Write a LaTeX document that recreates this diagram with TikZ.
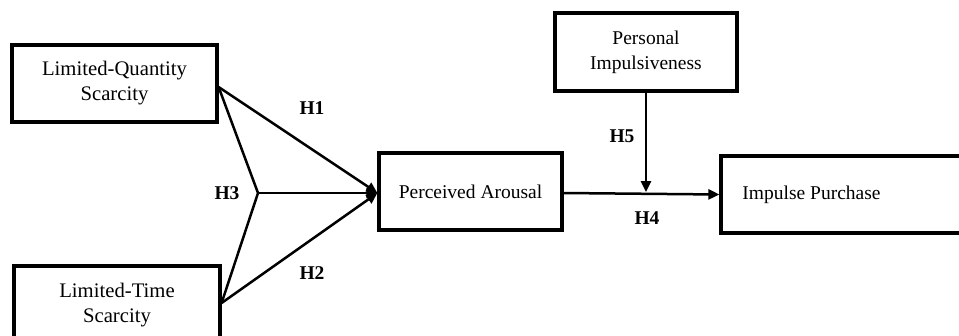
\documentclass[tikz,border=0pt]{standalone}
\usepackage{fontspec}
\setmainfont{Liberation Serif}
\usetikzlibrary{arrows.meta}
\begin{document}
\begin{tikzpicture}[x=1pt,y=-1pt,
  box/.style={draw, line width=3.2pt, inner sep=0pt, font=\fontsize{19.5}{25}\selectfont},
  bigtext/.style={font=\fontsize{20.7}{25}\selectfont},
  conn/.style={line width=2.5pt},
  arr/.style={conn, -{Triangle[length=11pt,width=10pt]}},
  hlab/.style={font=\fontsize{19.5}{20}\selectfont\bfseries, inner sep=0pt}]
\fill[white] (0,0) rectangle (959,335);
\useasboundingbox (0,0) rectangle (959,335);
\clip (0,0) rectangle (959,335);
% boxes
\node[box, bigtext, align=center, minimum width=205pt, minimum height=77pt] (LQ) at (114.5,83.5) {Limited-Quantity\\Scarcity};
\node[box, bigtext, align=center, minimum width=206pt, minimum height=79pt] (LT) at (117,305.5) {Limited-Time\\Scarcity};
\node[box, minimum width=183pt, minimum height=77pt] (PA) at (470.5,191.5) {Perceived Arousal};
\node[box, align=center, minimum width=182pt, minimum height=78pt] (PI) at (646,52) {Personal\\Impulsiveness};
\node[box, minimum width=241pt, minimum height=77pt] (IP) at (841.5,194.5) {Impulse Purchase\hspace*{60pt}};
% connectors
\coordinate (J) at (258,193);
\coordinate (M) at (646,192);
\draw[arr] ([yshift=-3.5pt]LQ.east) -- ([yshift=-1.5pt]PA.west);
\draw[arr] ([yshift=2.5pt]LT.east) -- ([yshift=-1.5pt]PA.west);
\draw[conn] ([yshift=-3.5pt]LQ.east) -- (J) -- ([yshift=2.5pt]LT.east);
\draw[arr] (J) -- ([yshift=-1.5pt]PA.west);
\draw[arr] ([yshift=-1.5pt]PA.east) -- (IP.west);
\draw[arr] (PI.south) -- (M);
% labels
\node[hlab] (h1) at (312,108) {H1};
\node[hlab] (h2) at (312,273) {H2};
\node[hlab] (h3) at (227,193) {H3};
\node[hlab] (h4) at (647,218) {H4};
\node[hlab] (h5) at (622,136) {H5};
\end{tikzpicture}
\end{document}
